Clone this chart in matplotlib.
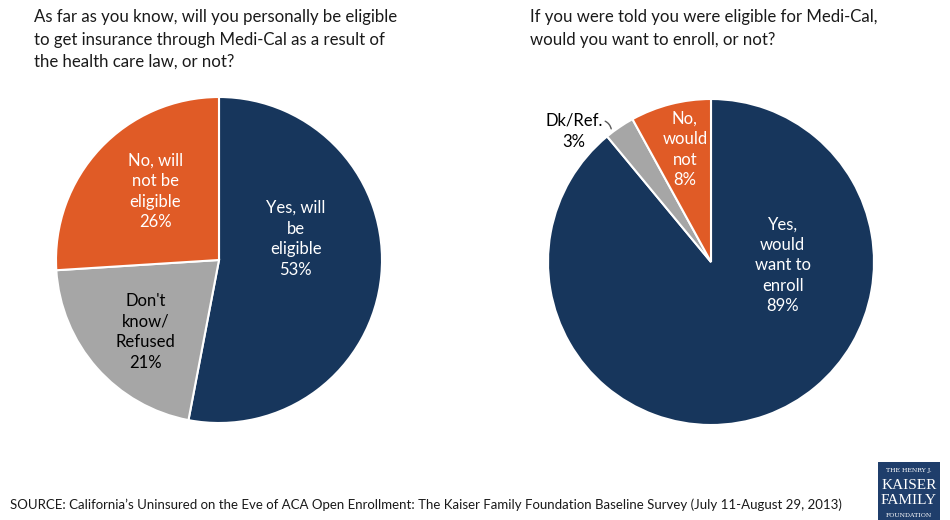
import matplotlib
matplotlib.use("Agg")
import matplotlib.pyplot as plt
from matplotlib.patches import Rectangle

plt.rcParams['font.family'] = ['Lato', 'DejaVu Sans']

# Data
left_labels = ["Yes, will\nbe\neligible", "Don't\nknow/\nRefused", "No, will\nnot be\neligible"]
left_values = [53, 21, 26]
right_labels = ["Yes,\nwould\nwant to\nenroll", "Dk/Ref.", "No,\nwould\nnot"]
right_values = [89, 3, 8]

left_title = ("As far as you know, will you personally be eligible\n"
              "to get insurance through Medi-Cal as a result of\n"
              "the health care law, or not?")
right_title = "If you were told you were eligible for Medi-Cal,\nwould you want to enroll, or not?"
source = ("SOURCE: California\u2019s Uninsured on the Eve of ACA Open Enrollment: "
          "The Kaiser Family Foundation Baseline Survey (July 11-August 29, 2013)")

NAVY = "#17365C"
ORANGE = "#E05B26"
GRAY = "#A6A6A6"

W, H = 950, 520
fig = plt.figure(figsize=(W / 100, H / 100), dpi=100)


def pie_axes(cx, cy, r):
    ax = fig.add_axes([(cx - r) / W, (H - cy - r) / H, 2 * r / W, 2 * r / H])
    return ax


# Left pie
axL = pie_axes(219, 260, 163)
wedgesL, _ = axL.pie(left_values, colors=[NAVY, GRAY, ORANGE], startangle=90,
                     counterclock=False, radius=1,
                     wedgeprops=dict(edgecolor="white", linewidth=1.5))
axL.set_xlim(-1, 1)
axL.set_ylim(-1, 1)
axL.set_aspect("equal")
axL.axis("off")

left_pos = [(0.47, 0.13), (-0.45, -0.44), (-0.39, 0.42)]
left_col = ["white", "black", "white"]
for lab, v, (x, y), c in zip(left_labels, left_values, left_pos, left_col):
    axL.text(x, y, f"{lab}\n{v}%", ha="center", va="center", color=c,
             fontsize=12, linespacing=1.35)

# Right pie
axR = pie_axes(711, 262, 163)
wedgesR, _ = axR.pie(right_values, colors=[NAVY, GRAY, ORANGE], startangle=90,
                     counterclock=False, radius=1,
                     wedgeprops=dict(edgecolor="white", linewidth=1.5))
axR.set_xlim(-1, 1)
axR.set_ylim(-1, 1)
axR.set_aspect("equal")
axR.axis("off")

axR.text(0.44, -0.02, f"{right_labels[0]}\n{right_values[0]}%", ha="center", va="center",
         color="white", fontsize=12, linespacing=1.35)
axR.text(-0.16, 0.69, f"{right_labels[2]}\n{right_values[2]}%", ha="center", va="center",
         color="white", fontsize=12, linespacing=1.35)
axR.text(-0.84, 0.80, f"{right_labels[1]}\n{right_values[1]}%", ha="center", va="center",
         color="black", fontsize=12, linespacing=1.4, clip_on=False)
# leader line from the Dk/Ref. label to its slice
axR.annotate("", xy=(-0.61, 0.80), xytext=(-0.665, 0.87),
             arrowprops=dict(arrowstyle="-", color="#595959", lw=1,
                             connectionstyle="arc3,rad=-0.35"),
             annotation_clip=False)

# Titles
fig.text(34 / W, 1 - 9 / H, left_title, ha="left", va="top", fontsize=12.1,
         linespacing=1.5, color="#1a1a1a")
fig.text(530 / W, 1 - 9 / H, right_title, ha="left", va="top", fontsize=12.1,
         linespacing=1.5, color="#1a1a1a")

# Source note
fig.text(10 / W, 1 - 505 / H, source, ha="left", va="center", fontsize=9.5,
         color="#1a1a1a")

# Foundation logo
logo = fig.add_axes([878 / W, 0, 62 / W, 58 / H])
logo.add_patch(Rectangle((0, 0), 1, 1, color="#1F3E6B", transform=logo.transAxes))
logo.axis("off")
logo.text(0.5, 0.86, "THE HENRY J.", ha="center", va="center", color="white",
          fontsize=4.5, family="DejaVu Serif")
logo.text(0.5, 0.60, "KAISER", ha="center", va="center", color="white",
          fontsize=11, family="Liberation Serif")
logo.text(0.5, 0.33, "FAMILY", ha="center", va="center", color="white",
          fontsize=11, family="Liberation Serif")
logo.text(0.5, 0.08, "FOUNDATION", ha="center", va="center", color="white",
          fontsize=4.5, family="DejaVu Serif")

fig.savefig("out.png", dpi=100, facecolor="white")
